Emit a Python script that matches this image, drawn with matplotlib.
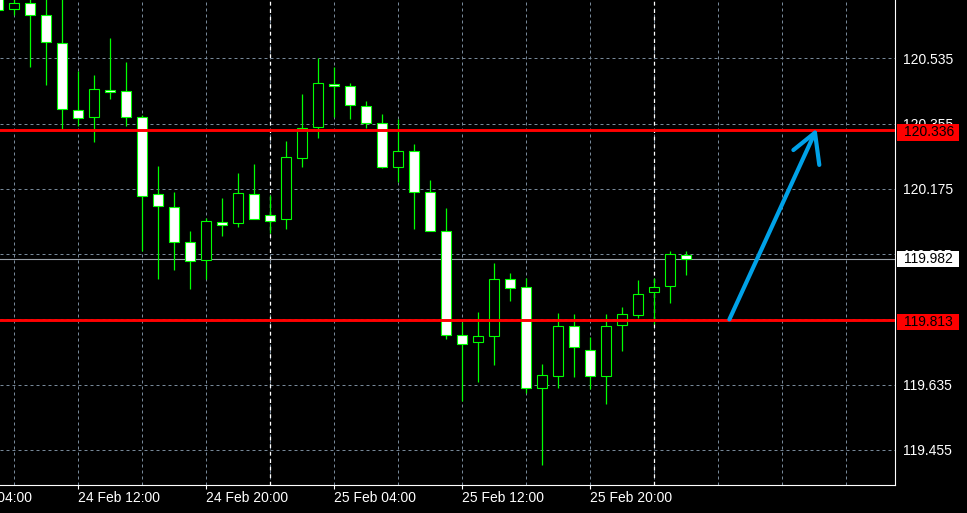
import numpy as np
import pandas as pd
import matplotlib
matplotlib.use('Agg')
import matplotlib.pyplot as plt
from matplotlib.patches import Rectangle

# --- data (H1 candles) ---
TIMES = pd.date_range('2024-02-24 07:00', periods=44, freq='h')
OPENS = [120.718, 120.670, 120.687, 120.654, 120.576, 120.392, 120.372, 120.447, 120.444, 120.372,
         120.160, 120.124, 120.028, 119.978, 120.083, 120.080, 120.160, 120.102, 120.091, 120.259,
         120.345, 120.463, 120.458, 120.403, 120.356, 120.234, 120.279, 120.166, 120.058, 119.771,
         119.752, 119.769, 119.926, 119.904, 119.625, 119.658, 119.796, 119.730, 119.658, 119.799,
         119.826, 119.890, 119.906, 119.992]
HIGHS = [120.737, 120.710, 120.704, 120.701, 120.701, 120.500, 120.489, 120.591, 120.525, 120.378,
         120.238, 120.166, 120.058, 120.094, 120.149, 120.218, 120.243, 120.157, 120.306, 120.436,
         120.535, 120.510, 120.466, 120.416, 120.381, 120.367, 120.298, 120.199, 120.121, 119.807,
         119.835, 119.970, 119.942, 119.928, 119.691, 119.832, 119.829, 119.766, 119.829, 119.849,
         119.923, 119.928, 120.003, 120.003]
LOWS = [120.657, 120.654, 120.512, 120.462, 120.341, 120.349, 120.305, 120.424, 120.349, 120.005,
        119.927, 119.952, 119.900, 119.927, 120.046, 120.071, 120.091, 120.053, 120.065, 120.236,
        120.314, 120.372, 120.367, 120.342, 120.232, 120.193, 120.065, 120.058, 119.762, 119.591,
        119.643, 119.690, 119.867, 119.611, 119.413, 119.627, 119.657, 119.624, 119.583, 119.727,
        119.818, 119.802, 119.860, 119.938]
CLOSES = [120.668, 120.687, 120.654, 120.579, 120.394, 120.370, 120.450, 120.441, 120.372, 120.155,
          120.127, 120.028, 119.975, 120.086, 120.075, 120.163, 120.091, 120.086, 120.262, 120.342,
          120.466, 120.458, 120.405, 120.356, 120.234, 120.279, 120.166, 120.058, 119.771, 119.747,
          119.769, 119.926, 119.901, 119.625, 119.661, 119.796, 119.738, 119.658, 119.796, 119.829,
          119.884, 119.904, 119.995, 119.982]

LEVELS = [120.336, 119.813]          # red horizontal lines
LAST_PRICE = 119.982
PRICE_TICKS = [119.455, 119.635, 119.815, 119.995, 120.175, 120.355, 120.535]
BASE = pd.Timestamp('2024-02-24 00:00')
LABEL_TIMES = pd.date_range('2024-02-24 04:00', '2024-02-25 20:00', freq='8h')
GRID_TIMES = pd.date_range('2024-02-24 08:00', '2024-02-26 12:00', freq='4h')
SEPARATORS = [pd.Timestamp('2024-02-25 00:00'), pd.Timestamp('2024-02-26 00:00')]

# hand drawn arrow (hours from BASE, price)
ARROW_X = [52.69, 58.04]
ARROW_Y = [119.815, 120.330]
HEAD_X = [56.69, 58.04, 58.31]
HEAD_Y = [120.282, 120.330, 120.241]

BULL_FILL = '#000000'
BEAR_FILL = '#ffffff'
CANDLE_EDGE = '#00ff00'
GRID_COLOR = '#778899'

plt.rcParams['font.family'] = ['Liberation Sans', 'DejaVu Sans']


def hours(ts):
    return (pd.DatetimeIndex(ts) - BASE) / pd.Timedelta(hours=1)


W, H = 967, 513
fig = plt.figure(figsize=(W / 100, H / 100), dpi=100, facecolor='black')
ax = fig.add_axes([0, 28 / H, 895.3 / W, 485 / H], facecolor='black')

x = np.asarray(hours(TIMES))
o = np.array(OPENS); c = np.array(CLOSES)
hi = np.array(HIGHS); lo = np.array(LOWS)
bull = c > o
fills = np.where(bull, BULL_FILL, BEAR_FILL)
bottoms = np.minimum(o, c)
heights = np.maximum(np.abs(c - o), 0.001)

# grid and separators
for gx in hours(GRID_TIMES):
    ax.axvline(gx, color=GRID_COLOR, lw=0.72, ls=(0, (3, 3)), zorder=0.5)
for py in PRICE_TICKS:
    ax.axhline(py, color=GRID_COLOR, lw=0.72, ls=(0, (3, 3)), zorder=0.5)
for sx in hours(SEPARATORS):
    ax.axvline(sx, color='white', lw=0.9, ls=(0, (3, 3)), zorder=0.6)
ax.axhline(LAST_PRICE, color='#9aa2aa', lw=0.8, zorder=0.7)

# candles
ax.vlines(x, lo, hi, color=CANDLE_EDGE, lw=0.9, zorder=2)
ax.bar(x, heights, bottom=bottoms, width=0.62, color=fills, edgecolor=CANDLE_EDGE,
       linewidth=0.8, zorder=3)

# support / resistance
for lv in LEVELS:
    ax.axhline(lv, color='#ff0000', lw=2.1, zorder=4)

# arrow
ax.plot(ARROW_X, ARROW_Y, color='#00a2e8', lw=3, solid_capstyle='round', zorder=5)
ax.plot(HEAD_X, HEAD_Y, color='#00a2e8', lw=3, solid_capstyle='round',
        solid_joinstyle='round', zorder=5)

ax.set_xlim(7.106, 63.06)
ax.set_ylim(119.3585, 120.6957)

# axes styling
for side in ['left', 'top']:
    ax.spines[side].set_visible(False)
for side in ['right', 'bottom']:
    ax.spines[side].set_color('white')
    ax.spines[side].set_linewidth(0.8)

ax.yaxis.tick_right()
ax.set_yticks(PRICE_TICKS)
ax.set_yticklabels([f'{p:.3f}' for p in PRICE_TICKS])
ax.tick_params(axis='y', length=0, pad=5.3, labelcolor='white', labelsize=10)

lab_x = np.asarray(hours(LABEL_TIMES))
ax.set_xticks([v for v in lab_x if v > 7.106])
ax.set_xticklabels([])
ax.tick_params(axis='x', length=3, width=0.8, color='white', direction='out')
for lx, t in zip(lab_x, LABEL_TIMES):
    ax.annotate(t.strftime('%d %b %H:%M').lstrip('0'), xy=(lx, 0),
                xycoords=('data', 'axes fraction'), xytext=(0, -13),
                textcoords='offset pixels', ha='left', va='center', color='white',
                fontsize=10, annotation_clip=False)

# price boxes on the right scale
ytr = ax.get_yaxis_transform()
box_x0 = 897 / 895.3
box_w = (959 - 897) / 895.3
box_h = 16.6 / 362.7
for price, face, shift in [(LEVELS[0], '#ff0000', 2), (LAST_PRICE, '#ffffff', 0), (LEVELS[1], '#ff0000', 2)]:
    yc = price - shift / 362.7
    ax.add_patch(Rectangle((box_x0, yc - box_h / 2), box_w, box_h, transform=ytr,
                           facecolor=face, edgecolor='none', clip_on=False, zorder=6))
    ax.text(904 / 895.3, yc, f'{price:.3f}', transform=ytr, ha='left', va='center',
            color='black', fontsize=10, clip_on=False, zorder=7)

fig.savefig('out.png', dpi=100, facecolor='black')
